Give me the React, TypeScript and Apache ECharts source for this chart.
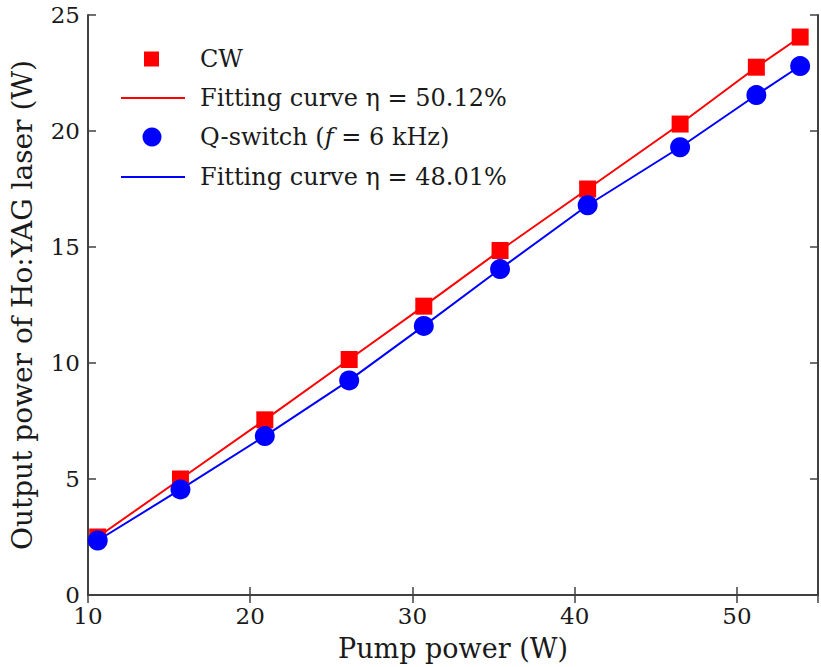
import React, { useEffect, useRef } from "react";
import * as echarts from "echarts";

const pumpPower = [10.6, 15.7, 20.9, 26.1, 30.7, 35.4, 40.8, 46.5, 51.2, 53.9];
const cwOutput = [2.5, 5.0, 7.55, 10.15, 12.45, 14.85, 17.5, 20.3, 22.75, 24.05];
const qsOutput = [2.35, 4.55, 6.85, 9.25, 11.6, 14.05, 16.8, 19.3, 21.55, 22.8];
const legendLabels = [
  "CW",
  "Fitting curve η = 50.12%",
  "Q-switch ({i|f} = 6 kHz)",
  "Fitting curve η = 48.01%",
];

const FONT = "DejaVu Serif";
const TEXT_COLOR = "#1a1a1a";
const AXIS_COLOR = "#404040";
const RED = "#ff0000";
const BLUE = "#0000ff";

export default function App() {
  const ref = useRef<HTMLDivElement>(null);
  useEffect(() => {
    if (!ref.current) return;
    const chart = echarts.init(ref.current, undefined, { renderer: "svg" });
    const pairs = (ys: number[]) => pumpPower.map((x, i) => [x, ys[i]]);
    const axisLine = { show: true, lineStyle: { color: AXIS_COLOR, width: 2 } };
    const axisTick = { show: true, inside: true, length: 8, lineStyle: { color: AXIS_COLOR, width: 1.5 } };
    const legendX = 200;
    const rows = [59, 98, 137, 177];
    chart.setOption({
      animation: false,
      backgroundColor: "#ffffff",
      grid: { left: 85, right: 3, top: 15, bottom: 71, containLabel: false },
      xAxis: [
        {
          type: "value",
          min: 10,
          max: 55,
          interval: 10,
          name: "Pump power (W)",
          nameLocation: "middle",
          nameGap: 40,
          nameTextStyle: { fontFamily: FONT, fontSize: 27, color: TEXT_COLOR },
          axisLine,
          axisTick,
          splitLine: { show: false },
          axisLabel: { fontFamily: FONT, fontSize: 23, color: TEXT_COLOR, margin: 9, showMaxLabel: false },
        },
        {
          type: "value",
          position: "top",
          min: 10,
          max: 55,
          interval: 10,
          axisLine,
          axisTick,
          splitLine: { show: false },
          axisLabel: { show: false },
        },
      ],
      yAxis: [
        {
          type: "value",
          min: 0,
          max: 25,
          interval: 5,
          name: "Output power of Ho:YAG laser (W)",
          nameLocation: "middle",
          nameGap: 52,
          nameTextStyle: { fontFamily: FONT, fontSize: 28, color: TEXT_COLOR },
          axisLine,
          axisTick,
          splitLine: { show: false },
          axisLabel: { fontFamily: FONT, fontSize: 23, color: TEXT_COLOR, margin: 8 },
        },
        {
          type: "value",
          position: "right",
          min: 0,
          max: 25,
          interval: 5,
          axisLine,
          axisTick,
          splitLine: { show: false },
          axisLabel: { show: false },
        },
      ],
      series: [
        {
          type: "line",
          name: "Fitting curve CW",
          data: pairs(cwOutput),
          symbol: "none",
          lineStyle: { color: RED, width: 2 },
          z: 2,
        },
        {
          type: "line",
          name: "Fitting curve Q-switch",
          data: pairs(qsOutput),
          symbol: "none",
          lineStyle: { color: BLUE, width: 2 },
          z: 2,
        },
        {
          type: "scatter",
          name: "CW",
          data: pairs(cwOutput),
          symbol: "rect",
          symbolSize: 17,
          itemStyle: { color: RED, opacity: 1 },
          z: 3,
        },
        {
          type: "scatter",
          name: "Q-switch",
          data: pairs(qsOutput),
          symbol: "circle",
          symbolSize: 20,
          itemStyle: { color: BLUE, opacity: 1 },
          z: 4,
        },
      ],
      graphic: [
        { type: "rect", shape: { x: 144, y: rows[0] - 7.5, width: 15, height: 15 }, style: { fill: RED } },
        { type: "line", shape: { x1: 121, y1: rows[1], x2: 185, y2: rows[1] }, style: { stroke: RED, lineWidth: 2 } },
        { type: "circle", shape: { cx: 152, cy: rows[2], r: 9.5 }, style: { fill: BLUE } },
        { type: "line", shape: { x1: 121, y1: rows[3], x2: 185, y2: rows[3] }, style: { stroke: BLUE, lineWidth: 2 } },
        ...legendLabels.map((t, i) => ({
          type: "text",
          x: legendX,
          y: rows[i],
          style: {
            text: t,
            fontFamily: FONT,
            fontSize: 24,
            fill: TEXT_COLOR,
            verticalAlign: "middle",
            rich: {
              i: { fontFamily: FONT, fontSize: 24, fontStyle: "italic", fill: TEXT_COLOR },
            },
          },
        })),
      ],
    });
    return () => chart.dispose();
  }, []);
  return (
    <div
      ref={ref}
      style={{ position: "absolute", left: 0, top: 0, width: 821, height: 667 }}
    />
  );
}
